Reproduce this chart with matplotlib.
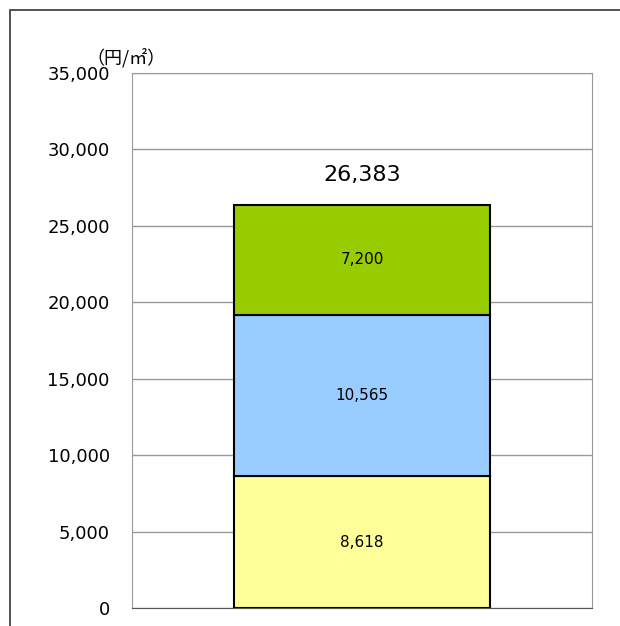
import matplotlib.pyplot as plt
from matplotlib.patches import Rectangle

# 内訳の値（円/㎡）
segments = [8618, 10565, 7200]
seg_labels = ['8,618', '10,565', '7,200']
colors = ['#FFFF99', '#99CCFF', '#99CC00']
total_label = '26,383'
yticks = [0, 5000, 10000, 15000, 20000, 25000, 30000, 35000]

fig = plt.figure(figsize=(6.2, 6.26), dpi=100)
ax = fig.add_axes([132 / 620, 18 / 626, 460 / 620, 535 / 626])

# 外枠
fig.patches.append(Rectangle((10 / 620, -0.05), 1.0, (616 / 626) + 0.05,
                             transform=fig.transFigure, fill=False,
                             edgecolor='#444444', linewidth=1.3))

bottom = 0
for val, lab, col in zip(segments, seg_labels, colors):
    ax.bar(0, val, bottom=bottom, width=0.557, color=col,
           edgecolor='black', linewidth=1.5, zorder=3)
    ax.text(0, bottom + val / 2, lab, ha='center', va='center', fontsize=11, zorder=4)
    bottom += val

ax.text(0, bottom + 1950, total_label, ha='center', va='center', fontsize=16)

ax.set_xlim(-0.5, 0.5)
ax.set_ylim(0, 35000)
ax.set_yticks(yticks)
ax.set_yticklabels([f'{v:,}' for v in yticks], fontsize=13)
ax.set_xticks([])
ax.tick_params(axis='y', length=0, pad=16)
ax.grid(axis='y', color='#999999', linewidth=1, zorder=0)
for s in ['left', 'right', 'top']:
    ax.spines[s].set_color('#999999')
ax.spines['bottom'].set_color('#555555')

fig.text(86 / 620, 1 - 58 / 626, '（円/㎡）', fontsize=13,
         family=['Noto Sans CJK JP', 'DejaVu Sans'], va='center', ha='left')

fig.savefig('out.png', dpi=100)
